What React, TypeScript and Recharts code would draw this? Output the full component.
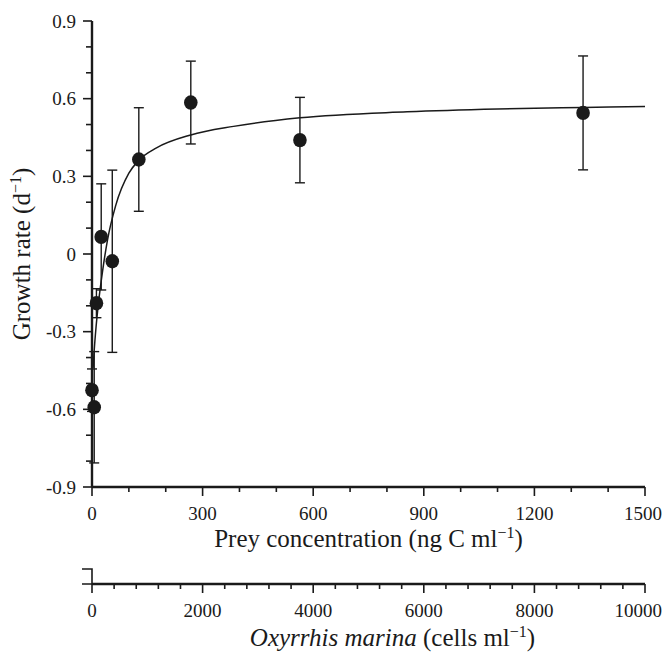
import React from 'react';
import { ComposedChart, XAxis, YAxis, Scatter, Line, ErrorBar } from 'recharts';

// ---- measured data ----
const preyConc = [0, 6, 12, 25, 55, 127, 268, 564, 1332];
const growthRate = [-0.526, -0.592, -0.19, 0.066, -0.028, 0.365, 0.585, 0.44, 0.545];
const growthErr = [0.082, 0.215, 0.056, 0.205, 0.352, 0.2, 0.16, 0.165, 0.22];

// fitted curve, points
const curvePrey = [3, 6, 11, 18, 29, 42, 64, 100, 127, 175, 268, 384, 564, 855, 1100, 1332, 1500];
const curveRate = [-0.44, -0.372, -0.282, -0.184, -0.063, 0.054, 0.186, 0.312, 0.362, 0.41, 0.46, 0.493, 0.526, 0.549, 0.56, 0.566, 0.57];

// ticks
const preyDomain = [0, 1500];
const preyTicks = [0, 100, 200, 300, 400, 500, 600, 700, 800, 900, 1000, 1100, 1200, 1300, 1400, 1500];
const preyMajorTicks = [0, 300, 600, 900, 1200, 1500];
const preyTickLabels = ['0', '300', '600', '900', '1200', '1500'];

const cellDomain = [0, 10000];
const cellTicks = [0, 400, 800, 1200, 1600, 2000, 2400, 2800, 3200, 3600, 4000, 4400, 4800, 5200, 5600, 6000, 6400, 6800, 7200, 7600, 8000, 8400, 8800, 9200, 9600, 10000];
const cellMajorTicks = [0, 2000, 4000, 6000, 8000, 10000];
const cellTickLabels = ['0', '2000', '4000', '6000', '8000', '10000'];

const rateDomain = [-0.9, 0.9];
const rateTicks = [-0.9, -0.8, -0.7, -0.6, -0.5, -0.4, -0.3, -0.2, -0.1, 0, 0.1, 0.2, 0.3, 0.4, 0.5, 0.6, 0.7, 0.8, 0.9];
const rateMajorTicks = [-0.9, -0.6, -0.3, 0, 0.3, 0.6, 0.9];
const rateTickLabels = ['-0.9', '-0.6', '-0.3', '0', '0.3', '0.6', '0.9'];

const points = preyConc.map((x, i) => ({ x, y: growthRate[i], err: growthErr[i] }));
const curve = curvePrey.map((x, i) => ({ x, y: curveRate[i] }));
// invisible helper series so that the cells axis gets a scale
const cellAxisData = cellDomain.map((x) => ({ x, y: null }));

const INK = '#1a1a1a';
const FONT = '"Liberation Serif", "Times New Roman", Times, serif';
const TICK_FS = 19;
const TITLE_FS = 25;

function findIdx(list: number[], v: number) {
  return list.findIndex((m) => Math.abs(m - v) < 1e-6);
}

function BottomLabel({ x, y, text, last }: { x: number; y: number; text: string; last: boolean }) {
  return (
    <text
      x={last ? x + 17 : x}
      y={y + 33}
      textAnchor={last ? 'end' : 'middle'}
      fontSize={TICK_FS}
      fontFamily={FONT}
      style={{ fontFamily: FONT }}
      fill={INK}
    >
      {text}
    </text>
  );
}

function PreyTick(props: any) {
  const { x, y, payload } = props;
  const idx = findIdx(preyMajorTicks, payload.value);
  const major = idx >= 0;
  return (
    <g>
      <line x1={x} y1={y} x2={x} y2={y + (major ? 9 : 5)} stroke={INK} strokeWidth={1.6} />
      {major && <BottomLabel x={x} y={y} text={preyTickLabels[idx]} last={idx === preyMajorTicks.length - 1} />}
    </g>
  );
}

function CellTick(props: any) {
  const { x, y, payload } = props;
  const idx = findIdx(cellMajorTicks, payload.value);
  const major = idx >= 0;
  return (
    <g>
      <line x1={x} y1={y} x2={x} y2={y + (major ? 9 : 5)} stroke={INK} strokeWidth={1.6} />
      {idx === 0 && (
        <path d={`M${x - 10},${y - 15} H${x} V${y} M${x - 10},${y} H${x}`} stroke={INK} strokeWidth={1.6} fill="none" />
      )}
      {major && <BottomLabel x={x} y={y} text={cellTickLabels[idx]} last={idx === cellMajorTicks.length - 1} />}
    </g>
  );
}

function RateTick(props: any) {
  const { x, y, payload } = props;
  const idx = findIdx(rateMajorTicks, payload.value);
  const major = idx >= 0;
  return (
    <g>
      <line x1={x - (major ? 9 : 6)} y1={y} x2={x} y2={y} stroke={INK} strokeWidth={1.6} />
      {major && (
        <text x={x - 16} y={y + 6.5} textAnchor="end" fontSize={TICK_FS} fontFamily={FONT} style={{ fontFamily: FONT }} fill={INK}>
          {rateTickLabels[idx]}
        </text>
      )}
    </g>
  );
}

function YTitle(props: any) {
  const vb = props.viewBox || {};
  const cx = vb.x + 30;
  const cy = vb.y + vb.height / 2;
  return (
    <text
      x={cx}
      y={cy}
      transform={`rotate(-90, ${cx}, ${cy})`}
      textAnchor="middle"
      fontSize={TITLE_FS}
      fontFamily={FONT}
      fill={INK}
    >
      Growth rate (d
      <tspan dy={-9} fontSize={16}>−1</tspan>
      <tspan dy={9}>)</tspan>
    </text>
  );
}

function PreyTitle(props: any) {
  const vb = props.viewBox || {};
  const cx = vb.x + vb.width / 2;
  const cy = vb.y + 60;
  return (
    <text x={cx} y={cy} textAnchor="middle" fontSize={TITLE_FS} fontFamily={FONT} fill={INK}>
      Prey concentration (ng C ml
      <tspan dy={-9} fontSize={16}>−1</tspan>
      <tspan dy={9}>)</tspan>
    </text>
  );
}

function CellTitle(props: any) {
  const vb = props.viewBox || {};
  const cx = vb.x + vb.width / 2 + 24;
  const cy = vb.y + 62;
  return (
    <text x={cx} y={cy} textAnchor="middle" fontSize={TITLE_FS} fontFamily={FONT} fill={INK}>
      <tspan fontStyle="italic">Oxyrrhis marina</tspan> (cells ml
      <tspan dy={-9} fontSize={16}>−1</tspan>
      <tspan dy={9}>)</tspan>
    </text>
  );
}

const Dot = (p: any) => <ellipse cx={p.cx} cy={p.cy} rx={6.8} ry={7.2} fill={INK} />;

const preyTickEl = <PreyTick />;
const cellTickEl = <CellTick />;
const rateTickEl = <RateTick />;
const preyLabel = (p: any) => <PreyTitle {...p} />;
const cellLabel = (p: any) => <CellTitle {...p} />;
const rateLabel = (p: any) => <YTitle {...p} />;
const axisLineStyle = { stroke: INK, strokeWidth: 2.4 };
const chartMargin = { top: 21, right: 20, bottom: 0, left: 0 };

export default function App() {
  return (
    <div style={{ position: 'absolute', left: 0, top: 0, background: '#fff' }}>
      <ComposedChart width={665} height={652} margin={chartMargin}>
        <XAxis
          xAxisId="a1prey"
          type="number"
          dataKey="x"
          domain={preyDomain}
          ticks={preyTicks}
          interval={0}
          tickSize={0}
          tickMargin={0}
          tickLine={false}
          tick={preyTickEl}
          axisLine={axisLineStyle}
          height={97}
          label={preyLabel}
        />
        <XAxis
          xAxisId="b2cells"
          type="number"
          dataKey="x"
          domain={cellDomain}
          ticks={cellTicks}
          interval={0}
          tickSize={0}
          tickMargin={0}
          tickLine={false}
          tick={cellTickEl}
          axisLine={axisLineStyle}
          height={68}
          label={cellLabel}
        />
        <YAxis
          yAxisId="g"
          type="number"
          dataKey="y"
          domain={rateDomain}
          ticks={rateTicks}
          interval={0}
          tickSize={0}
          tickMargin={0}
          tickLine={false}
          tick={rateTickEl}
          axisLine={axisLineStyle}
          width={92}
          label={rateLabel}
        />
        <Line
          xAxisId="b2cells"
          yAxisId="g"
          data={cellAxisData}
          dataKey="y"
          stroke="none"
          dot={false}
          activeDot={false}
          legendType="none"
          isAnimationActive={false}
        />
        <Line
          xAxisId="a1prey"
          yAxisId="g"
          data={curve}
          dataKey="y"
          type="monotone"
          stroke={INK}
          strokeWidth={1.5}
          dot={false}
          activeDot={false}
          isAnimationActive={false}
        />
        <Scatter
          xAxisId="a1prey"
          yAxisId="g"
          data={points}
          dataKey="y"
          shape={Dot}
          isAnimationActive={false}
        >
          <ErrorBar dataKey="err" direction="y" width={5} stroke={INK} strokeWidth={1.4} />
        </Scatter>
      </ComposedChart>
    </div>
  );
}
